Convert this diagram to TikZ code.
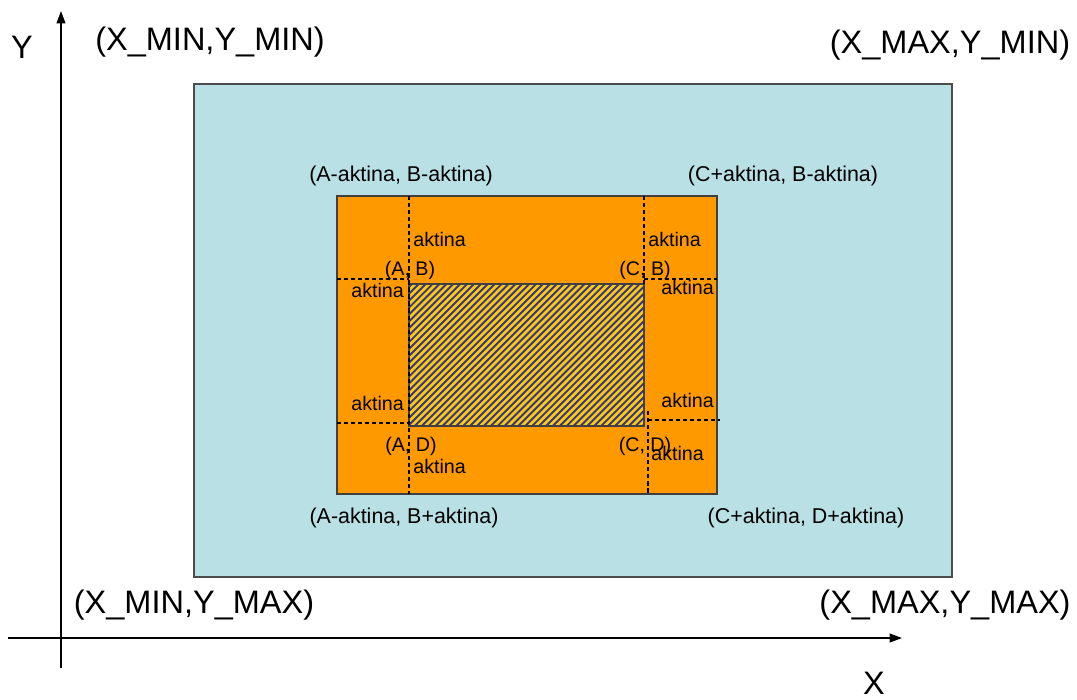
\documentclass[tikz,border=0pt]{standalone}
\usepackage{fontspec}
\setmainfont{Liberation Sans}
\usetikzlibrary{arrows.meta}
\definecolor{fieldblue}{RGB}{185,224,228}
\definecolor{marginorange}{RGB}{255,153,0}
\definecolor{hatchyellow}{RGB}{255,204,0}
\definecolor{hatchblue}{RGB}{51,51,153}

\begin{document}
\begin{tikzpicture}[
    x=0.2mm, y=-0.2mm,
    axis/.style={-{Triangle[length=7pt,width=5pt]}, line width=0.8pt},
    bound/.style={font=\fontsize{18.5}{21}\selectfont, inner sep=0pt},
    corner/.style={font=\fontsize{12.2}{14}\selectfont, inner sep=0pt},
    gap/.style={font=\fontsize{11.2}{13}\selectfont, inner sep=0pt},
    cut/.style={line width=0.8pt, dash pattern=on 2.4pt off 1.6pt},
    hatch/.style={hatchblue, line width=1.1pt}
]
    \useasboundingbox (0,0) rectangle (1077,699);

    % Axes
    \coordinate (xs) at (8,638);
    \coordinate (xe) at (902,638);
    \coordinate (ys) at (61,668);
    \coordinate (ye) at (61,11);
    \draw[axis] (xs) -- (xe);
    \draw[axis] (ys) -- (ye);
    \node[bound] (ylab) at (22,47) {Y};
    \node[bound] (xlab) at (874,683) {X};

    % Field and margin
    \draw[fill=fieldblue, draw=black!70, line width=0.8pt] (194,84) rectangle (952,577);
    \draw[fill=marginorange, draw=black!75, line width=0.8pt] (337,196) rectangle (717,494);

    % Hatched core
    \fill[hatchyellow] (409,284) rectangle (644,426);
    \begin{scope}
        \clip (409,284) rectangle (644,426);
        \foreach \x in {0,...,57}
            \draw[hatch] ({263+6.9*\x},426) -- ({405+6.9*\x},284);
    \end{scope}
    \draw[draw=black!75, line width=0.8pt] (409,284) rectangle (644,426);

    % Dashed cuts
    \draw[cut] (409,196) -- (409,494);
    \draw[cut] (644,196) -- (644,284);
    \draw[cut] (648,411) -- (648,494);
    \draw[cut] (337,279) -- (409,279);
    \draw[cut] (644,279) -- (717,279);
    \draw[cut] (337,423) -- (409,423);
    \draw[cut] (648,420) -- (720,420);

    % Bounds
    \node[bound] (minmin) at (210,42) {(X\_MIN,Y\_MIN)};
    \node[bound] (maxmin) at (950,45) {(X\_MAX,Y\_MIN)};
    \node[bound] (minmax) at (194,605) {(X\_MIN,Y\_MAX)};
    \node[bound] (maxmax) at (945,605) {(X\_MAX,Y\_MAX)};

    % Margin corners
    \node[corner] (tl) at (401,176) {(A-aktina, B-aktina)};
    \node[corner] (tr) at (783,176) {(C+aktina, B-aktina)};
    \node[corner] (bl) at (404,518) {(A-aktina, B+aktina)};
    \node[corner] (br) at (806,518) {(C+aktina, D+aktina)};

    % Inner corners
    \node[gap] (ab) at (410,270) {(A, B)};
    \node[gap] (cb) at (645,270) {(C, B)};
    \node[gap] (ad) at (411,446) {(A, D)};
    \node[gap] (cd) at (645,446) {(C, D)};

    % Gaps
    \node[gap, anchor=west] (g1) at (413,239) {aktina};
    \node[gap, anchor=west] (g2) at (648,239) {aktina};
    \node[gap, anchor=west] (g3) at (351,290) {aktina};
    \node[gap, anchor=west] (g4) at (661,287) {aktina};
    \node[gap, anchor=west] (g5) at (351,403) {aktina};
    \node[gap, anchor=west] (g6) at (661,400) {aktina};
    \node[gap, anchor=west] (g7) at (413,466) {aktina};
    \node[gap, anchor=west] (g8) at (651,453) {aktina};
\end{tikzpicture}
\end{document}
